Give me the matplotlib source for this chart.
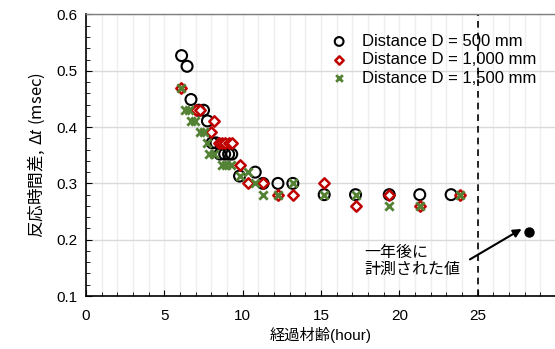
import matplotlib
matplotlib.use("Agg")
import matplotlib.pyplot as plt
from matplotlib.ticker import MultipleLocator, FixedLocator, FormatStrFormatter

plt.rcParams['font.family'] = ['Liberation Sans', 'Noto Sans CJK JP', 'DejaVu Sans']
plt.rcParams['mathtext.fontset'] = 'custom'
plt.rcParams['mathtext.it'] = 'Liberation Sans:italic'
plt.rcParams['mathtext.rm'] = 'Noto Sans CJK JP'
plt.rcParams['mathtext.default'] = 'rm'

# Distance D = 500 mm
t500 = [6.1, 6.45, 6.7, 7.2, 7.5, 7.75, 8.05, 8.3, 8.55, 8.85, 9.1, 9.3,
        9.8, 10.8, 11.3, 12.25, 13.2, 15.2, 17.2, 19.35, 21.3, 23.3]
d500 = [0.527, 0.508, 0.449, 0.43, 0.43, 0.411, 0.372, 0.372, 0.352, 0.352, 0.352, 0.352,
        0.313, 0.32, 0.30, 0.30, 0.30, 0.28, 0.28, 0.28, 0.28, 0.28]

# Distance D = 1,000 mm
t1000 = [6.05, 7.0, 7.3, 8.2, 7.95, 8.5, 8.7, 8.9, 9.1, 9.3,
         9.8, 10.35, 11.3, 12.25, 13.2, 15.2, 17.2, 19.35, 21.3, 23.85]
d1000 = [0.469, 0.431, 0.431, 0.411, 0.392, 0.371, 0.371, 0.371, 0.371, 0.371,
         0.332, 0.30, 0.30, 0.28, 0.28, 0.30, 0.26, 0.28, 0.26, 0.28]

# Distance D = 1,500 mm
t1500 = [6.05, 6.3, 6.55, 6.7, 6.95, 7.25, 7.55, 7.75, 7.85, 8.15, 8.65, 8.95, 9.25,
         9.8, 10.35, 10.8, 11.3, 12.25, 13.2, 15.2, 17.2, 19.35, 21.3, 23.85]
d1500 = [0.469, 0.431, 0.431, 0.411, 0.411, 0.392, 0.392, 0.371, 0.352, 0.352, 0.332, 0.332, 0.332,
         0.313, 0.32, 0.30, 0.28, 0.28, 0.30, 0.28, 0.28, 0.26, 0.26, 0.28]

# value measured one year later
t_later = [28.3]
d_later = [0.214]

x_ticks = [0, 5, 10, 15, 20, 25]
y_ticks = [0.1, 0.2, 0.3, 0.4, 0.5, 0.6]

fig = plt.figure(figsize=(5.55, 3.49), dpi=100)
ax = fig.add_axes([86 / 555, 1 - 296 / 349, 1 - 86 / 555 + 0.002, (296 - 14.5) / 349])

ax.set_xlim(0, 30)
ax.set_ylim(0.1, 0.6)
ax.xaxis.set_major_locator(FixedLocator(x_ticks))
ax.xaxis.set_minor_locator(MultipleLocator(1))
ax.yaxis.set_major_locator(FixedLocator(y_ticks))
ax.yaxis.set_minor_locator(MultipleLocator(0.02))
ax.yaxis.set_major_formatter(FormatStrFormatter('%.1f'))

ax.grid(True, which='major', axis='y', color='#d9d9d9', lw=1.0)
ax.grid(True, which='both', axis='x', color='#eeeeee', lw=1.0)
ax.set_axisbelow(True)

ax.tick_params(which='both', direction='in', labelsize=11, colors='black')
ax.tick_params(which='major', length=4)
ax.tick_params(axis='x', which='major', pad=9)
ax.tick_params(axis='y', which='major', pad=6)
ax.tick_params(which='minor', length=3)
ax.tick_params(top=False, right=False, which='both')

for s in ['left', 'bottom']:
    ax.spines[s].set_color('black')
    ax.spines[s].set_linewidth(1.2)
ax.spines['top'].set_color('#7f7f7f')
ax.spines['top'].set_linewidth(1.0)
ax.spines['right'].set_visible(False)

ax.axvline(25, color='black', lw=1.2, ls=(0, (4, 3)), zorder=1)

ax.scatter(t500, d500, s=62, facecolors='none', edgecolors='black', linewidths=1.5,
           marker='o', zorder=3, label='Distance D = 500 mm')
ax.scatter(t1000, d1000, s=28, facecolors='white', edgecolors='#c00000', linewidths=1.8,
           marker='D', zorder=4, label='Distance D = 1,000 mm')
ax.scatter(t1500, d1500, s=36, color='#548235', linewidths=2.0,
           marker='x', zorder=5, label='Distance D = 1,500 mm')
ax.scatter(t_later, d_later, s=42, color='black', zorder=5)

ax.annotate('', xy=(27.8, 0.219), xytext=(24.5, 0.165),
            arrowprops=dict(arrowstyle='-|>', color='black', lw=1.5,
                            mutation_scale=12, shrinkA=0, shrinkB=0))
ax.text(17.75, 0.162, '一年後に\n計測された値', fontsize=11.5, ha='left', va='center',
        linespacing=1.2)

leg = ax.legend(loc='upper left', bbox_to_anchor=(0.503, 0.955), frameon=False,
                fontsize=12, handletextpad=0.75, labelspacing=0.2,
                borderaxespad=0, handlelength=1.2, scatterpoints=1, markerscale=0.8)

ax.set_xlabel('経過材齢(hour)', fontsize=11, labelpad=3)
ax.set_ylabel(r'$\mathrm{反応時間差,}\,\mathrm{Δ}\mathit{t}\ \mathrm{(msec)}$',
              fontsize=12, labelpad=7)

fig.savefig('out.png', dpi=100)
